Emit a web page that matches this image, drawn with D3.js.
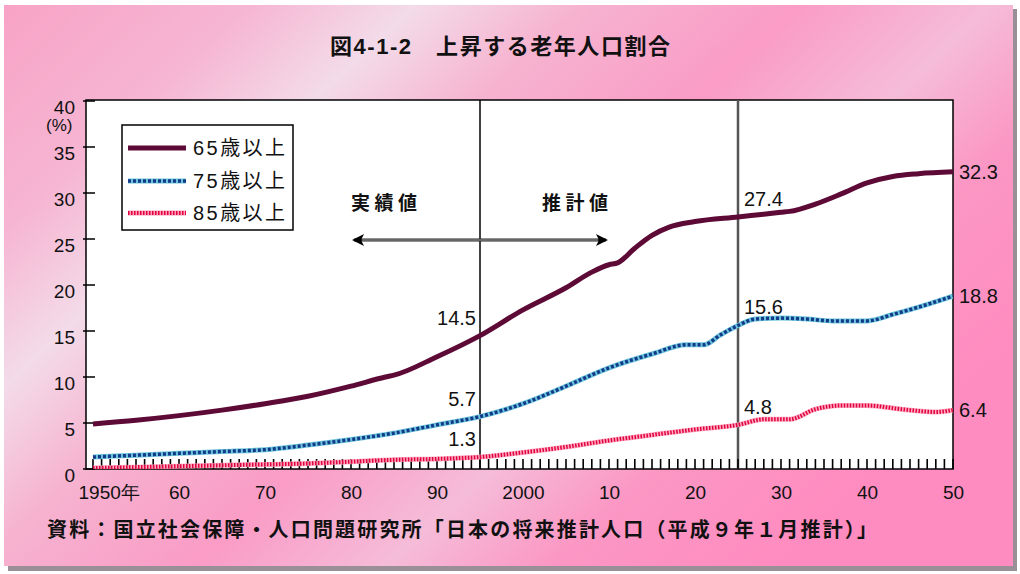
<!DOCTYPE html>
<html>
<head>
<meta charset="utf-8">
<script src="https://cdn.jsdelivr.net/npm/d3@7"></script>
<style>
  html, body { margin: 0; padding: 0; background: #fff; }
  svg { display: block; font-family: "Liberation Sans", Arial, "Noto Sans CJK JP", sans-serif; }
  .axis path { display: none; }
  .axis text { font-size: 19px; fill: #111; }
  .lbl { font-size: 19px; fill: #111; }
</style>
</head>
<body>
<svg id="chart" width="1020" height="574"></svg>
<script>
// values (percent of total population)
const years65 = [1950, 1955, 1960, 1965, 1970, 1975, 1980, 1984, 1985, 1990, 1995, 2000, 2005, 2008, 2010, 2011, 2013, 2015, 2017, 2020, 2025, 2028, 2030, 2031, 2034, 2037, 2040, 2043, 2046, 2050];
const vals65  = [4.9, 5.3, 5.8, 6.4, 7.1, 7.9, 9.0, 10.0, 10.2, 12.2, 14.5, 17.3, 19.7, 21.4, 22.2, 22.4, 24.0, 25.4, 26.3, 26.9, 27.4, 27.7, 27.9, 28.0, 28.8, 29.9, 31.1, 31.8, 32.1, 32.3];

const years75 = [1950, 1955, 1960, 1965, 1970, 1975, 1980, 1985, 1990, 1995, 2000, 2005, 2010, 2015, 2019, 2021, 2023, 2025, 2027, 2030, 2033, 2036, 2040, 2043, 2046, 2050];
const vals75  = [1.3, 1.5, 1.7, 1.9, 2.1, 2.6, 3.2, 3.9, 4.8, 5.7, 7.1, 9.0, 11.0, 12.5, 13.5, 13.5, 14.6, 15.6, 16.3, 16.4, 16.3, 16.1, 16.1, 16.8, 17.6, 18.8];

const years85 = [1950, 1955, 1960, 1965, 1970, 1975, 1980, 1985, 1990, 1995, 2000, 2005, 2010, 2015, 2020, 2025, 2028, 2031, 2034, 2037, 2040, 2044, 2048, 2050];
const vals85  = [0.1, 0.2, 0.3, 0.4, 0.5, 0.6, 0.8, 1.0, 1.1, 1.3, 1.8, 2.4, 3.1, 3.7, 4.3, 4.8, 5.4, 5.4, 6.5, 6.9, 6.9, 6.5, 6.2, 6.4];

const seriesNames = ['65歳以上', '75歳以上', '85歳以上'];
const yTicks = [0, 5, 10, 15, 20, 25, 30, 35, 40];
const tickYears = d3.range(1950, 2051);
const xLabelYears = [1950, 1960, 1970, 1980, 1990, 2000, 2010, 2020, 2030, 2040, 2050];
const xLabels = ['1950年', '60', '70', '80', '90', '2000', '10', '20', '30', '40', '50'];
const dividers = [1995, 2025];
// value labels: [year, value, text, side]
const valueLabels = [
  [1995, 14.5, '14.5', 'l'], [1995, 5.7, '5.7', 'l'], [1995, 1.3, '1.3', 'l'],
  [2025, 27.4, '27.4', 'r'], [2025, 15.6, '15.6', 'r'], [2025, 4.8, '4.8', 'r'],
  [2050, 32.3, '32.3', 'e'], [2050, 18.8, '18.8', 'e'], [2050, 6.4, '6.4', 'e']
];
const title = '図4-1-2　上昇する老年人口割合';
const source = '資料：国立社会保障・人口問題研究所「日本の将来推計人口（平成９年１月推計）」';

const svg = d3.select('#chart');
const defs = svg.append('defs');

// pink mottled background
const bg = defs.append('linearGradient').attr('id', 'bgGrad')
    .attr('x1', '0').attr('y1', '0').attr('x2', '1').attr('y2', '0.6');
[['0%', '#f8a3c6'], ['18%', '#f6b6d3'], ['30%', '#f3dbe9'], ['42%', '#f6b3d0'],
 ['58%', '#fa9cc6'], ['72%', '#f5bcd8'], ['84%', '#fb97c4'], ['100%', '#ff8cc0']]
  .forEach(s => bg.append('stop').attr('offset', s[0]).attr('stop-color', s[1]));

svg.append('rect').attr('x', 8).attr('y', 9).attr('width', 1009).attr('height', 562).attr('fill', '#9a8f96');
svg.append('rect').attr('x', 4).attr('y', 5).attr('width', 1009).attr('height', 561).attr('fill', 'url(#bgGrad)');

const x = d3.scaleLinear().domain([1950, 2050]).range([93, 953]);
const y = d3.scaleLinear().domain([0, 40]).range([469, 101]);

const pLeft = 86, pRight = 953, pTop = 100, pBottom = 469;

// plot area
svg.append('rect')
    .attr('x', pLeft).attr('y', pTop).attr('width', pRight - pLeft).attr('height', pBottom - pTop)
    .attr('fill', '#fff').attr('stroke', '#000').attr('stroke-width', 1.5);

// y axis labels
svg.append('g').attr('class', 'axis')
    .attr('transform', `translate(${pLeft},0)`)
    .call(d3.axisLeft(y).tickValues(yTicks).tickSize(0).tickPadding(11))
    .selectAll('text').attr('y', 6);

svg.append('text').attr('class', 'lbl').attr('x', 46).attr('y', 131)
    .style('font-size', '17px').text('(%)');

// decade labels
const xl = svg.append('g').attr('class', 'axis')
    .attr('transform', `translate(0,${pBottom})`)
    .call(d3.axisBottom(x).tickValues(xLabelYears).tickSize(0).tickPadding(17)
      .tickFormat((d, i) => xLabels[i]));
xl.selectAll('text').filter(d => d === 1950).attr('text-anchor', 'start').attr('x', -15);

// dividers between actual and projected
svg.append('line').attr('x1', x(dividers[0])).attr('x2', x(dividers[0]))
    .attr('y1', pTop).attr('y2', pBottom).attr('stroke', '#000').attr('stroke-width', 1.5);
svg.append('line').attr('x1', x(dividers[1])).attr('x2', x(dividers[1]))
    .attr('y1', pTop).attr('y2', pBottom).attr('stroke', '#555').attr('stroke-width', 2.5);

// double-headed arrow and captions
defs.append('marker').attr('id', 'arrowHead').attr('viewBox', '0 0 12 12')
    .attr('refX', 10).attr('refY', 6).attr('markerWidth', 12).attr('markerHeight', 12)
    .attr('markerUnits', 'userSpaceOnUse').attr('orient', 'auto-start-reverse')
  .append('path').attr('d', 'M0,0 L12,6 L0,12 L3,6 Z').attr('fill', '#000');
svg.append('line').attr('x1', 354).attr('x2', 606).attr('y1', 240).attr('y2', 240)
    .attr('stroke', '#222').attr('stroke-width', 3)
    .attr('marker-start', 'url(#arrowHead)').attr('marker-end', 'url(#arrowHead)');
svg.append('line').attr('x1', 362).attr('x2', 598).attr('y1', 240).attr('y2', 240)
    .attr('stroke', '#aaa').attr('stroke-width', 1);
svg.append('text').attr('class', 'lbl').attr('x', 351).attr('y', 210)
    .style('font-weight', 'bold').attr('textLength', 66).text('実績値');
svg.append('text').attr('class', 'lbl').attr('x', 542).attr('y', 210)
    .style('font-weight', 'bold').attr('textLength', 66).text('推計値');

// yearly tick marks along the bottom and y ticks, as single paths built from the scales
const xTickPath = tickYears.map(d => `M${x(d).toFixed(1)},${pBottom}V${pBottom - 10}`).join('');
svg.append('path').attr('d', xTickPath)
    .attr('fill', 'none').attr('stroke', '#000').attr('stroke-width', 1.6);
const yTickPath = yTicks.map(d => `M${pLeft - 3},${y(d).toFixed(1)}H${pLeft + 9}`).join('');
svg.append('path').attr('d', yTickPath)
    .attr('fill', 'none').attr('stroke', '#000').attr('stroke-width', 1.6);

// series lines
const lineGen = d3.line().x(d => x(d[0])).y(d => y(d[1])).curve(d3.curveMonotoneX);
const s65 = d3.zip(years65, vals65);
const s75 = d3.zip(years75, vals75);
const s85 = d3.zip(years85, vals85);

const clip = defs.append('clipPath').attr('id', 'plotClip');
clip.append('rect').attr('x', pLeft).attr('y', pTop).attr('width', pRight - pLeft).attr('height', pBottom - pTop);
const g = svg.append('g').attr('clip-path', 'url(#plotClip)');

g.append('path').datum(s85).attr('d', lineGen).attr('fill', 'none')
    .attr('stroke', '#ff9cba').attr('stroke-width', 5).attr('stroke-opacity', 0.85);
g.append('path').datum(s85).attr('d', lineGen).attr('fill', 'none')
    .attr('stroke', '#e0003c').attr('stroke-width', 4).attr('stroke-dasharray', '1.5,1.5');

g.append('path').datum(s75).attr('d', lineGen).attr('fill', 'none')
    .attr('stroke', '#6cc4dc').attr('stroke-width', 5);
g.append('path').datum(s75).attr('d', lineGen).attr('fill', 'none')
    .attr('stroke', '#123a88').attr('stroke-width', 3.5).attr('stroke-dasharray', '3,2');

g.append('path').datum(s65).attr('d', lineGen).attr('fill', 'none')
    .attr('stroke', '#5e0a36').attr('stroke-width', 5);

// value labels
svg.selectAll('text.val').data(valueLabels).join('text')
    .attr('class', 'lbl val')
    .attr('x', d => d[3] === 'l' ? x(d[0]) - 4 : x(d[0]) + 6)
    .attr('y', d => y(d[1]) - (d[3] === 'e' ? -7 : 11))
    .attr('text-anchor', d => d[3] === 'l' ? 'end' : 'start')
    .style('font-size', '20px')
    .text(d => d[2]);

// legend
const lg = svg.append('g');
lg.append('rect').attr('x', 122).attr('y', 125).attr('width', 171).attr('height', 105)
    .attr('fill', '#fff').attr('stroke', '#000').attr('stroke-width', 1.5);
const ly = [148, 181, 213];
lg.append('line').attr('x1', 128).attr('x2', 186).attr('y1', ly[0]).attr('y2', ly[0])
    .attr('stroke', '#5e0a36').attr('stroke-width', 5);
lg.append('line').attr('x1', 128).attr('x2', 186).attr('y1', ly[1]).attr('y2', ly[1])
    .attr('stroke', '#6cc4dc').attr('stroke-width', 5);
lg.append('line').attr('x1', 128).attr('x2', 186).attr('y1', ly[1]).attr('y2', ly[1])
    .attr('stroke', '#123a88').attr('stroke-width', 3.5).attr('stroke-dasharray', '3,2');
lg.append('line').attr('x1', 128).attr('x2', 186).attr('y1', ly[2]).attr('y2', ly[2])
    .attr('stroke', '#ff9cba').attr('stroke-width', 5);
lg.append('line').attr('x1', 128).attr('x2', 186).attr('y1', ly[2]).attr('y2', ly[2])
    .attr('stroke', '#e0003c').attr('stroke-width', 4).attr('stroke-dasharray', '1.5,1.5');
lg.selectAll('text').data(seriesNames).join('text')
    .attr('class', 'lbl').style('font-size', '20px')
    .attr('x', 193).attr('y', (d, i) => ly[i] + 7).attr('textLength', 92).text(d => d);

// title and source
svg.append('text').attr('x', 330).attr('y', 54).attr('textLength', 340)
    .style('font-size', '22px').style('font-weight', 'bold').attr('fill', '#111').text(title);
svg.append('text').attr('x', 47).attr('y', 537).attr('textLength', 830)
    .style('font-size', '20px').style('font-weight', 'bold').attr('fill', '#111').text(source);
</script>
</body>
</html>
